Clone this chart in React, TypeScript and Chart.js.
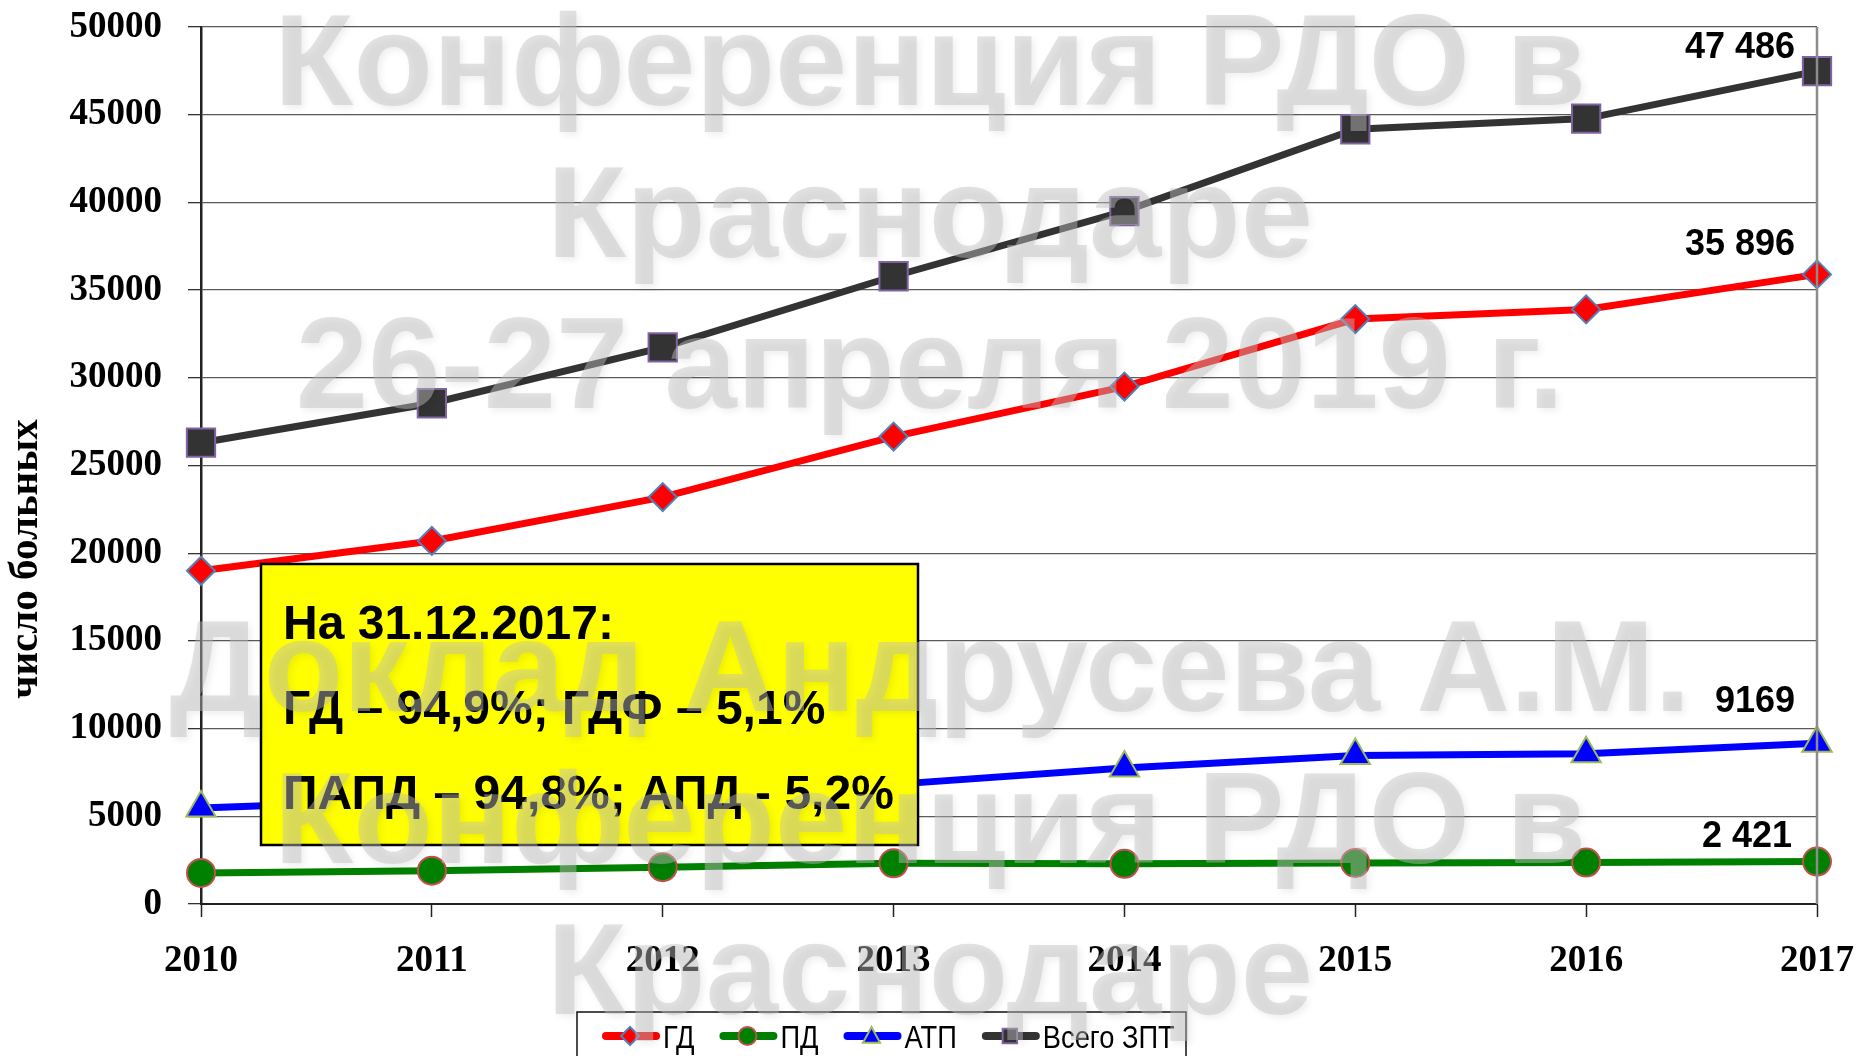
import React, { useEffect, useRef } from 'react';
import { Chart, registerables } from 'chart.js';

Chart.register(...registerables);

// ---------- data ----------
const years = ['2010', '2011', '2012', '2013', '2014', '2015', '2016', '2017'];
const gdValues = [19000, 20700, 23200, 26650, 29500, 33350, 33900, 35896];
const pdValues = [1770, 1900, 2100, 2320, 2290, 2340, 2360, 2421];
const atpValues = [5480, 5950, 6430, 6820, 7750, 8470, 8560, 9169];
const totalValues = [26300, 28550, 31730, 35790, 39500, 44170, 44780, 47486];
const seriesNames = ['ГД', 'ПД', 'АТП', 'Всего ЗПТ'];
const endLabels = ['35 896', '2 421', '9169', '47 486'];
const yAxisTitle = 'число больных';
const yMin = 0;
const yMax = 50000;
const yStep = 5000;
const noteLines = ['На 31.12.2017:', 'ГД – 94,9%; ГДФ – 5,1%', 'ПАПД – 94,8%; АПД - 5,2%'];
const watermarkLines = [
  'Конференция РДО в',
  'Краснодаре',
  '26-27 апреля 2019 г.',
  '',
  'Доклад Андрусева А.М.',
  'Конференция РДО в',
  'Краснодаре',
];

// ---------- styles ----------
const W = 1860;
const H = 1056;
const lineColors = ['#FF0000', '#008000', '#0000FF', '#333333'];
const markerBorders = ['#4F81BD', '#C0504D', '#9BBB59', '#8064A2'];
const pointStyles = ['rectRot', 'circle', 'triangle', 'rect'];
const pointRadii = [14, 14, 17, 20];
const labelOffsets = [
  { dx: -22, dy: -19 },
  { dx: -25, dy: -15 },
  { dx: -22, dy: -31 },
  { dx: -22, dy: -13 },
];
const SERIF = '"Liberation Serif", "Times New Roman", serif';
const SANS = '"Liberation Sans", Arial, sans-serif';
const LEGEND_SQUEEZE = 0.88;

function drawMarker(ctx: CanvasRenderingContext2D, style: string, x: number, y: number, r: number, fill: string, stroke: string, bw: number) {
  ctx.beginPath();
  if (style === 'rectRot') {
    ctx.moveTo(x - r, y);
    ctx.lineTo(x, y - r);
    ctx.lineTo(x + r, y);
    ctx.lineTo(x, y + r);
    ctx.closePath();
  } else if (style === 'circle') {
    ctx.arc(x, y, r, 0, Math.PI * 2);
  } else if (style === 'triangle') {
    ctx.moveTo(x, y - r);
    ctx.lineTo(x + r * 0.95, y + r * 0.75);
    ctx.lineTo(x - r * 0.95, y + r * 0.75);
    ctx.closePath();
  } else {
    ctx.rect(x - r * 0.8, y - r * 0.8, r * 1.6, r * 1.6);
  }
  ctx.fillStyle = fill;
  ctx.fill();
  ctx.lineWidth = bw;
  ctx.strokeStyle = stroke;
  ctx.stroke();
}

const overlayPlugin = {
  id: 'overlayPlugin',
  afterDatasetsDraw(chart: any) {
    const ctx: CanvasRenderingContext2D = chart.ctx;
    const { right, top, bottom } = chart.chartArea;
    ctx.save();
    // right border of plot area
    ctx.strokeStyle = '#8c8c8c';
    ctx.lineWidth = 2.5;
    ctx.beginPath();
    ctx.moveTo(right, top);
    ctx.lineTo(right, bottom);
    ctx.stroke();

    // end-value labels
    ctx.font = `bold 36px ${SANS}`;
    ctx.fillStyle = '#000';
    ctx.textAlign = 'right';
    ctx.textBaseline = 'alphabetic';
    chart.data.datasets.forEach((_ds: any, i: number) => {
      const meta = chart.getDatasetMeta(i);
      const pt = meta.data[meta.data.length - 1];
      ctx.fillText(endLabels[i], pt.x + labelOffsets[i].dx, pt.y + labelOffsets[i].dy);
    });

    // yellow note box
    ctx.fillStyle = '#FFFF00';
    ctx.fillRect(261, 564, 657, 281);
    ctx.strokeStyle = '#000';
    ctx.lineWidth = 2.5;
    ctx.strokeRect(261, 564, 657, 281);
    ctx.fillStyle = '#000';
    ctx.textAlign = 'left';
    ctx.font = `bold 48px ${SANS}`;
    const baselines = [639, 724, 809];
    noteLines.forEach((t, i) => ctx.fillText(t, 283, baselines[i]));
    ctx.restore();
  },
  afterDraw(chart: any) {
    const ctx: CanvasRenderingContext2D = chart.ctx;
    ctx.save();
    // y axis title
    ctx.save();
    ctx.translate(37, 559);
    ctx.rotate(-Math.PI / 2);
    ctx.font = `bold 41px ${SERIF}`;
    ctx.fillStyle = '#000';
    ctx.textAlign = 'center';
    ctx.textBaseline = 'alphabetic';
    ctx.fillText(yAxisTitle, 0, 0);
    ctx.restore();

    // legend
    ctx.fillStyle = '#fff';
    ctx.fillRect(577, 1012, 609, 60);
    ctx.strokeStyle = '#111';
    ctx.lineWidth = 1.5;
    ctx.strokeRect(577, 1012, 609, 60);
    ctx.font = `31px ${SANS}`;
    ctx.textAlign = 'left';
    ctx.textBaseline = 'alphabetic';
    let x = 602;
    const ly = 1036;
    chart.data.datasets.forEach((ds: any, i: number) => {
      ctx.strokeStyle = lineColors[i];
      ctx.lineWidth = 8;
      ctx.lineCap = 'round';
      ctx.beginPath();
      ctx.moveTo(x + 4, ly);
      ctx.lineTo(x + 54, ly);
      ctx.stroke();
      ctx.lineCap = 'butt';
      drawMarker(ctx, pointStyles[i], x + 28, ly, 9, lineColors[i], markerBorders[i], 2);
      ctx.fillStyle = '#000';
      const tx = x + 61;
      ctx.save();
      ctx.translate(tx, 1048);
      ctx.scale(LEGEND_SQUEEZE, 1);
      ctx.fillText(ds.label, 0, 0);
      ctx.restore();
      x = tx + ctx.measureText(ds.label).width * LEGEND_SQUEEZE + 25;
    });

    // watermark
    ctx.font = `bold 130px ${SANS}`;
    ctx.textAlign = 'center';
    ctx.textBaseline = 'alphabetic';
    ctx.fillStyle = 'rgba(192,192,192,0.46)';
    ctx.shadowColor = 'rgba(0,0,0,0.15)';
    ctx.shadowBlur = 7;
    ctx.shadowOffsetX = 3;
    ctx.shadowOffsetY = 3;
    watermarkLines.forEach((t, k) => {
      if (!t) return;
      ctx.fillText(t, 930, 59 + 151.5 * k + 46);
    });
    ctx.restore();
  },
};

export default function App() {
  const canvasRef = useRef<HTMLCanvasElement | null>(null);

  useEffect(() => {
    const canvas = canvasRef.current;
    if (!canvas) return;
    const series = [gdValues, pdValues, atpValues, totalValues];
    const chart = new Chart(canvas, {
      type: 'line',
      data: {
        labels: years,
        datasets: series.map((values, i) => ({
          label: seriesNames[i],
          data: values,
          borderColor: lineColors[i],
          backgroundColor: lineColors[i],
          borderWidth: 7,
          tension: 0,
          fill: false,
          pointStyle: pointStyles[i] as any,
          pointRadius: pointRadii[i],
          pointHoverRadius: pointRadii[i],
          pointBackgroundColor: lineColors[i],
          pointBorderColor: markerBorders[i],
          pointBorderWidth: 2,
        })),
      },
      options: {
        responsive: false,
        animation: false,
        events: [],
        layout: { padding: { left: 0, right: 43, top: 27, bottom: 52 } },
        plugins: {
          legend: { display: false },
          tooltip: { enabled: false },
          title: { display: false },
        },
        scales: {
          x: {
            type: 'category',
            offset: false,
            afterFit(scale: any) {
              scale.height = 100;
              scale.paddingLeft = 0;
              scale.paddingRight = 0;
            },
            grid: {
              drawOnChartArea: false,
              drawTicks: true,
              tickLength: 13,
              tickColor: '#222',
              tickWidth: 1.5,
            },
            border: { display: true, color: '#222', width: 2 },
            ticks: {
              color: '#000',
              font: { family: SERIF, size: 37, weight: 'bold' },
              padding: 22,
              maxRotation: 0,
              autoSkip: false,
            },
          },
          y: {
            min: yMin,
            max: yMax,
            afterFit(scale: any) {
              scale.width = 201;
              scale.paddingTop = 0;
              scale.paddingBottom = 0;
            },
            grid: {
              color: '#5a5a5a',
              lineWidth: 1.3,
              drawTicks: true,
              tickLength: 13,
              tickColor: '#333',
            },
            border: { display: true, color: '#222', width: 2.5 },
            ticks: {
              stepSize: yStep,
              color: '#000',
              font: { family: SERIF, size: 37, weight: 'bold' },
              padding: 26,
              callback: (v: any) => String(v),
            },
          },
        },
      },
      plugins: [overlayPlugin],
    });
    return () => chart.destroy();
  }, []);

  return (
    <div style={{ position: 'fixed', left: 0, top: 0, width: W, height: H, background: '#fff' }}>
      <canvas ref={canvasRef} width={W} height={H} style={{ width: W, height: H, display: 'block' }} />
    </div>
  );
}
